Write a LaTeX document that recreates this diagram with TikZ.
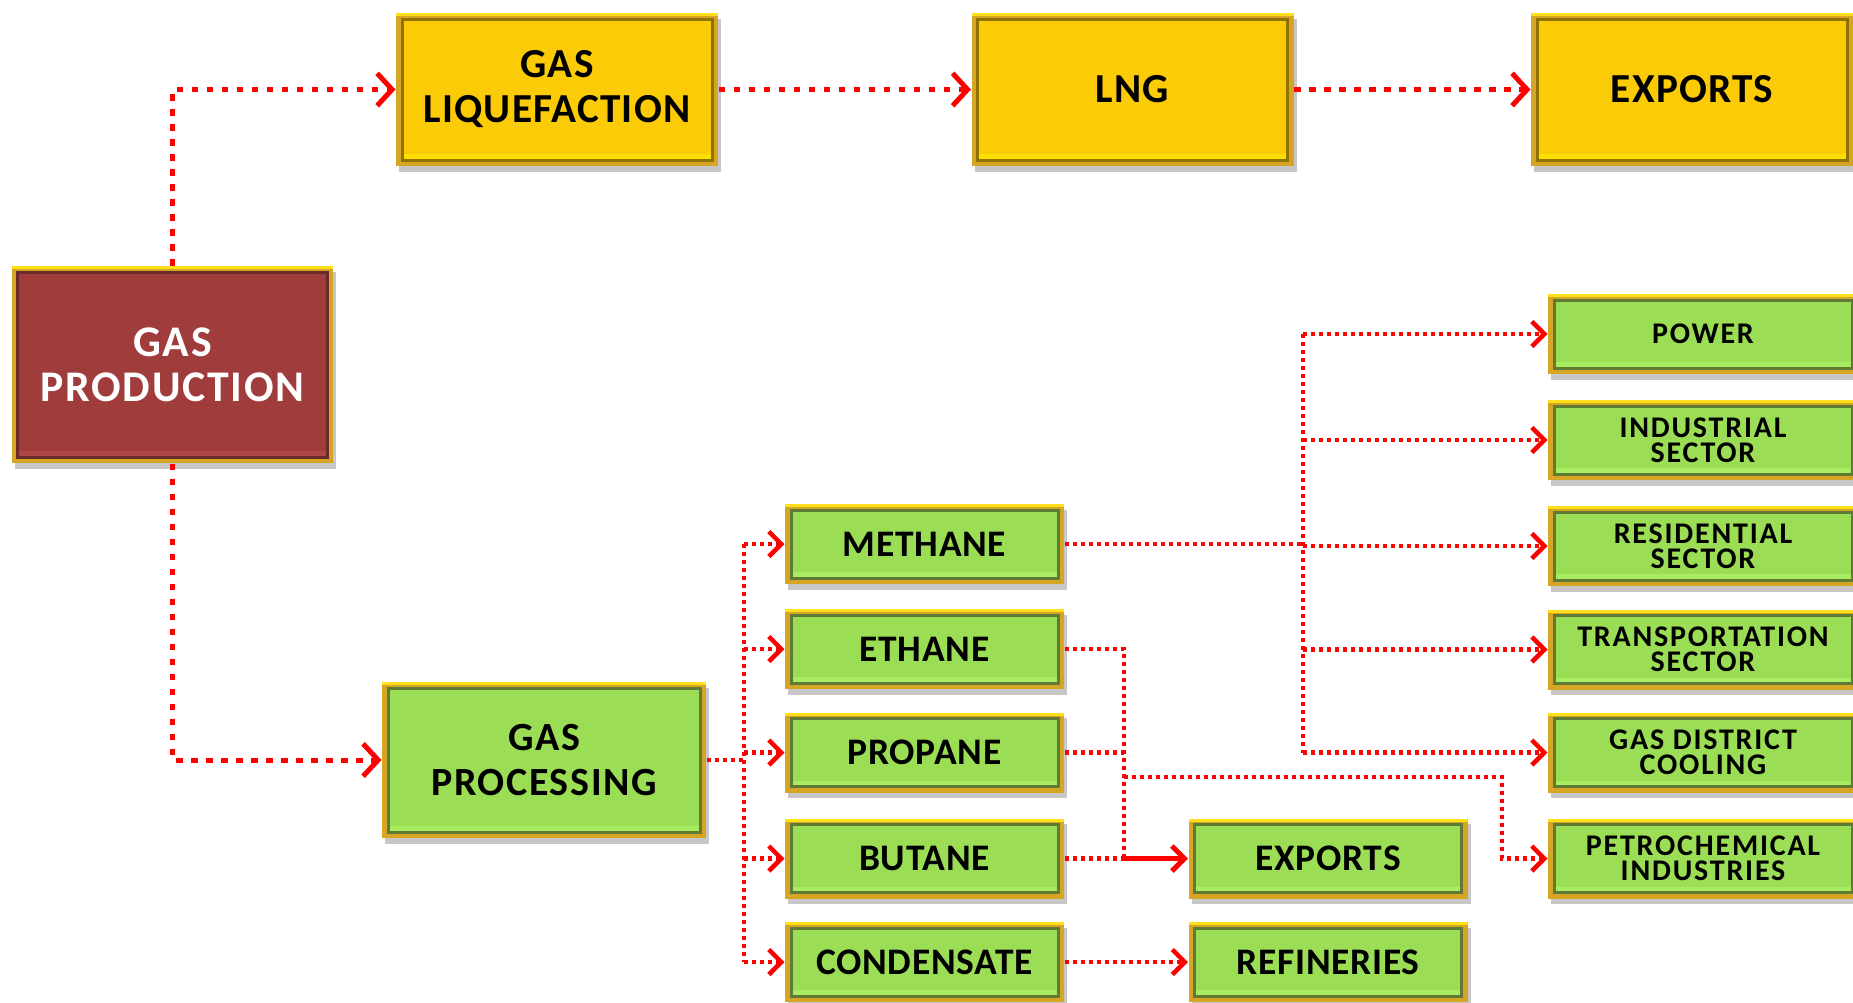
\documentclass[tikz,border=0pt]{standalone}
\usepackage{fontspec}
\setmainfont{Carlito}
\usetikzlibrary{arrows.meta,shadows,calc}
\definecolor{flow}{HTML}{FF0000}
\definecolor{gold}{HTML}{D6A524}
\definecolor{goldhi}{HTML}{FFE01A}
\definecolor{yfill}{HTML}{FCCB07}
\definecolor{yline}{HTML}{8F7200}
\definecolor{yhi}{HTML}{FFDF00}
\definecolor{gfill}{HTML}{9BDE55}
\definecolor{gline}{HTML}{5E7A34}
\definecolor{ghi}{HTML}{A9EC62}
\definecolor{rfill}{HTML}{A03D3C}
\definecolor{rline}{HTML}{6A2A2A}
\definecolor{rhi}{HTML}{AE4646}
\tikzset{
  box/.style n args={3}{rectangle, fill=gold, draw=none, inner sep=0pt, align=center,
    drop shadow={shadow xshift=1.2pt, shadow yshift=-2.2pt, fill=black, opacity=0.22},
    path picture={
      \fill[goldhi] (path picture bounding box.north west) rectangle ([yshift=-1.3pt]path picture bounding box.north east);
      \fill[#1] ([shift={(2.4pt,-2.4pt)}]path picture bounding box.north west) rectangle ([shift={(-2.4pt,2.4pt)}]path picture bounding box.south east);
      \fill[#3] ([shift={(2.4pt,4.8pt)}]path picture bounding box.south west) rectangle ([shift={(-2.4pt,2.4pt)}]path picture bounding box.south east);
      \draw[#2, line width=1.2pt] ([shift={(2.4pt,-2.4pt)}]path picture bounding box.north west) rectangle ([shift={(-2.4pt,2.4pt)}]path picture bounding box.south east);
    }},
  ybox/.style={box={yfill}{yline}{yhi}, minimum width=128.8pt, minimum height=61.2pt,
    font=\bfseries\fontsize{16.5}{18}\selectfont\addfontfeatures{LetterSpace=3}},
  rbox/.style={box={rfill}{rline}{rhi}, minimum width=128.4pt, minimum height=78.8pt,
    font=\bfseries\fontsize{17.5}{18}\selectfont\addfontfeatures{LetterSpace=4}, text=white},
  pbox/.style={box={gfill}{gline}{ghi}, minimum width=129.6pt, minimum height=62.4pt,
    font=\bfseries\fontsize{16}{18}\selectfont\addfontfeatures{LetterSpace=4}},
  mbox/.style={box={gfill}{gline}{ghi}, minimum width=111.6pt, minimum height=32pt,
    font=\bfseries\fontsize{15}{16}\selectfont\addfontfeatures{LetterSpace=2}},
  sbox/.style={box={gfill}{gline}{ghi}, minimum width=124pt, minimum height=32pt,
    font=\bfseries\fontsize{12}{10}\selectfont\addfontfeatures{LetterSpace=6}},
  flowA/.style={draw=flow, line width=2pt, dash pattern=on 2.6pt off 3.4pt,
    -{Straight Barb[length=6pt,width=13pt,line width=2pt]}},
  flowB/.style={draw=flow, line width=1.8pt, dash pattern=on 1.6pt off 1.6pt,
    -{Straight Barb[length=5pt,width=10pt,line width=1.8pt]}},
  flowS/.style={draw=flow, line width=2pt,
    -{Straight Barb[length=5pt,width=10pt,line width=2pt]}},
}
\begin{document}
\begin{tikzpicture}[x=0.4pt, y=-0.4pt]
\clip (0,0) rectangle (1853,1002);
\fill[white] (0,0) rectangle (1853,1002);

% nodes
\node[rbox] (prod) at (172.5,364.5) {GAS\\PRODUCTION};
\node[ybox] (liq) at (557,89.5) {GAS\\LIQUEFACTION};
\node[ybox] (lng) at (1132.5,89.5) {LNG};
\node[ybox] (exptop) at (1692,89.5) {EXPORTS};
\node[pbox] (proc) at (544,760) {GAS\\PROCESSING};

\node[mbox] (methane) at (924.5,544) {METHANE};
\node[mbox] (ethane) at (924.5,649) {ETHANE};
\node[mbox] (propane) at (924.5,752.5) {PROPANE};
\node[mbox] (butane) at (924.5,858.5) {BUTANE};
\node[mbox] (condensate) at (924.5,962) {CONDENSATE};
\node[mbox] (expbot) at (1328,858.5) {EXPORTS};
\node[mbox] (refin) at (1328,962) {REFINERIES};

\node[sbox] (power) at (1703,334) {POWER};
\node[sbox] (indus) at (1703,440) {INDUSTRIAL\\SECTOR};
\node[sbox] (resid) at (1703,546) {RESIDENTIAL\\SECTOR};
\node[sbox] (trans) at (1703,649.5) {TRANSPORTATION\\SECTOR};
\node[sbox] (gdc) at (1703,752.5) {GAS DISTRICT\\COOLING};
\node[sbox] (petro) at (1703,858.5) {PETROCHEMICAL\\INDUSTRIES};

% bus coordinates
\coordinate (pbus) at (744,0);
\coordinate (mbus) at (1303,0);
\coordinate (ebus) at (1124,0);
\coordinate (pet) at (1502,777);

% main flows
\draw[flowA] (prod.north) |- (liq.west);
\draw[flowA] (liq.east) -- (lng.west);
\draw[flowA] (lng.east) -- (exptop.west);
\draw[flowA] (prod.south) |- (proc.west);

% processing bus
\draw[flowB,-] (proc.east) -- (proc.east -| pbus);
\draw[flowB,-] (methane.west -| pbus) -- (condensate.west -| pbus);
\foreach \n in {methane,ethane,propane,butane,condensate}
  \draw[flowB] (\n.west -| pbus) -- (\n.west);

% methane bus
\draw[flowB,-] (methane.east) -- (methane.east -| mbus);
\draw[flowB,-] (power.west -| mbus) -- (gdc.west -| mbus);
\foreach \n in {power,indus,resid,trans,gdc}
  \draw[flowB] (\n.west -| mbus) -- (\n.west);

% ethane / propane / butane
\draw[flowB,-] (ethane.east) -| (butane.east -| ebus);
\draw[flowB,-] (propane.east) -- (propane.east -| ebus);
\draw[flowB,-] (butane.east) -- (butane.east -| ebus);
\draw[flowS] (butane.east -| ebus) -- (expbot.west);
\draw[flowB] (ebus |- pet) -- (pet) |- (petro.west);

% condensate
\draw[flowB] (condensate.east) -- (refin.west);
\end{tikzpicture}
\end{document}
